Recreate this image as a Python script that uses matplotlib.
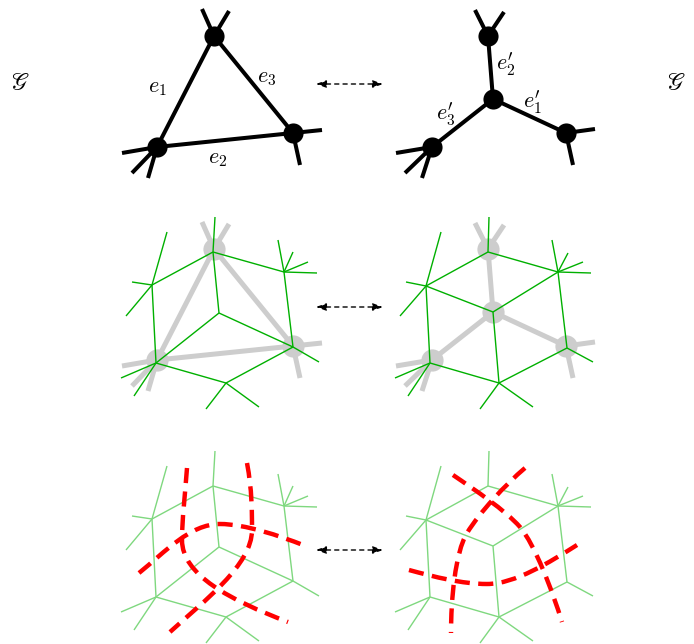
import matplotlib.pyplot as plt
from matplotlib.path import Path
from matplotlib.patches import PathPatch

# --- primal graph (triangle) : node positions in pixel coords
tri_nodes = {'t': (214, 36), 'l': (157, 147), 'r': (293, 133)}
tri_edges = [('t', 'l'), ('t', 'r'), ('l', 'r')]
tri_stubs = {'t': [(202, 9), (229, 11)],
             'l': [(122, 153), (132, 173), (148, 178)],
             'r': [(322, 130), (300, 165)]}

# --- dual graph (star)
star_nodes = {'t': (488, 36), 'c': (493, 99), 'r': (566, 133), 'l': (432, 147)}
star_edges = [('c', 't'), ('c', 'r'), ('c', 'l')]
star_stubs = {'t': [(475, 10), (504, 12)],
              'r': [(595, 129), (573, 165)],
              'l': [(396, 153), (405, 173), (422, 178)]}

# edge labels
tri_labels = [('$e_1$', 157, 88), ('$e_3$', 267, 78), ('$e_2$', 218, 159)]
star_labels = [(r"$e^{\prime}_2$", 506, 64), (r"$e^{\prime}_1$", 532, 102),
               (r"$e^{\prime}_3$", 446, 114)]

# --- green cell graphs (middle row)
gl_nodes = {'A': (213, 252), 'B': (152, 285), 'C': (284, 272), 'D': (219, 313),
            'E': (156, 363), 'F': (293, 347), 'G': (226, 383)}
gl_edges = [('A', 'B'), ('A', 'C'), ('A', 'D'), ('B', 'E'), ('C', 'F'),
            ('D', 'E'), ('D', 'F'), ('E', 'G'), ('F', 'G')]
gl_stubs = {'A': [(215, 217)],
            'B': [(167, 232), (132, 282), (126, 316)],
            'C': [(278, 240), (293, 252), (308, 262), (317, 273)],
            'E': [(121, 378), (134, 396)],
            'F': [(319, 362)],
            'G': [(206, 409), (259, 407)]}

gr_nodes = {'P': (488, 252), 'Q': (426, 286), 'R': (558, 272), 'S': (493, 312),
            'T': (430, 363), 'U': (567, 348), 'V': (499, 383)}
gr_edges = [('P', 'Q'), ('P', 'R'), ('Q', 'S'), ('R', 'S'), ('Q', 'T'),
            ('S', 'V'), ('R', 'U'), ('T', 'V'), ('U', 'V')]
gr_stubs = {'P': [(489, 217)],
            'Q': [(441, 232), (406, 282), (400, 316)],
            'R': [(552, 240), (568, 253), (583, 262), (591, 273)],
            'T': [(395, 378), (408, 396)],
            'U': [(593, 362)],
            'V': [(480, 409), (533, 407)]}

# --- red dashed curves (bottom row), cubic bezier control points
curves_left = [
    [(187, 468), (185, 495), (182, 520), (182, 540), (182, 575), (230, 600), (288, 622)],
    [(247, 463), (252, 490), (252, 510), (252, 530), (252, 565), (204, 601), (170, 632)],
    [(139, 573), (165, 552), (190, 524), (220, 524), (245, 524), (280, 536), (303, 545)],
]
curves_right = [
    [(453, 475), (475, 490), (505, 510), (520, 527), (535, 545), (552, 590), (562, 622)],
    [(525, 468), (505, 485), (480, 512), (467, 533), (455, 553), (451, 600), (451, 633)],
    [(409, 570), (435, 577), (462, 584), (487, 584), (515, 584), (550, 562), (577, 545)],
]

arrow_y = [84, 307, 550]
row2_dy = 213   # gray copy of the top graphs
row3_dy = 234   # light copy of the green graphs

plt.rcParams['mathtext.fontset'] = 'cm'
fig = plt.figure(figsize=(6.94, 6.44), dpi=100)
ax = fig.add_axes([0, 0, 1, 1])
ax.set_xlim(0, 694)
ax.set_ylim(644, 0)
ax.axis('off')


def draw_graph(nodes, edges, stubs, dy, color, lw, z):
    for a, b in edges:
        (x0, y0), (x1, y1) = nodes[a], nodes[b]
        ax.plot([x0, x1], [y0 + dy, y1 + dy], color=color, lw=lw, zorder=z,
                solid_capstyle='butt')
    for n, ends in stubs.items():
        x0, y0 = nodes[n]
        for x1, y1 in ends:
            ax.plot([x0, x1], [y0 + dy, y1 + dy], color=color, lw=lw, zorder=z,
                    solid_capstyle='butt')


def draw_dots(nodes, dy, color, ms, z):
    for x, y in nodes.values():
        ax.plot(x, y + dy, 'o', color=color, ms=ms, zorder=z, mec='none')


# top row
draw_graph(tri_nodes, tri_edges, tri_stubs, 0, 'black', 2.9, 2)
draw_dots(tri_nodes, 0, 'black', 14.5, 3)
draw_graph(star_nodes, star_edges, star_stubs, 0, 'black', 2.9, 2)
draw_dots(star_nodes, 0, 'black', 14.5, 3)
for s, x, y in tri_labels + star_labels:
    ax.text(x, y, s, fontsize=16, ha='center', va='center', zorder=4)

# middle row
gray = '#cdcdcd'
draw_graph(tri_nodes, tri_edges, tri_stubs, row2_dy, gray, 3.6, 1)
draw_dots(tri_nodes, row2_dy, gray, 16, 1)
draw_graph(star_nodes, star_edges, star_stubs, row2_dy, gray, 3.6, 1)
draw_dots(star_nodes, row2_dy, gray, 16, 1)
draw_graph(gl_nodes, gl_edges, gl_stubs, 0, '#00b000', 1.0, 2)
draw_graph(gr_nodes, gr_edges, gr_stubs, 0, '#00b000', 1.0, 2)

# bottom row
draw_graph(gl_nodes, gl_edges, gl_stubs, row3_dy, '#7fd87f', 1.0, 1)
draw_graph(gr_nodes, gr_edges, gr_stubs, row3_dy, '#7fd87f', 1.0, 1)
for pts in curves_left + curves_right:
    codes = [Path.MOVETO] + [Path.CURVE4] * (len(pts) - 1)
    ax.add_patch(PathPatch(Path(pts, codes), fill=False, edgecolor='#ff0000',
                           lw=3.2, linestyle=(0, (3.4, 1.9)), zorder=3,
                           capstyle='butt'))

# double arrows
for y in arrow_y:
    ax.annotate('', xy=(383, y), xytext=(316, y),
                arrowprops=dict(arrowstyle='<|-|>,head_length=0.6,head_width=0.22',
                                ls=(0, (3, 3)), lw=1.0, color='black',
                                shrinkA=0, shrinkB=0))

# graph symbol
for x in (20, 676):
    ax.text(x, 83, r'$\mathscr{G}$', fontsize=17, ha='center', va='center',
            math_fontfamily='stix')

fig.savefig('out.png', dpi=100)
